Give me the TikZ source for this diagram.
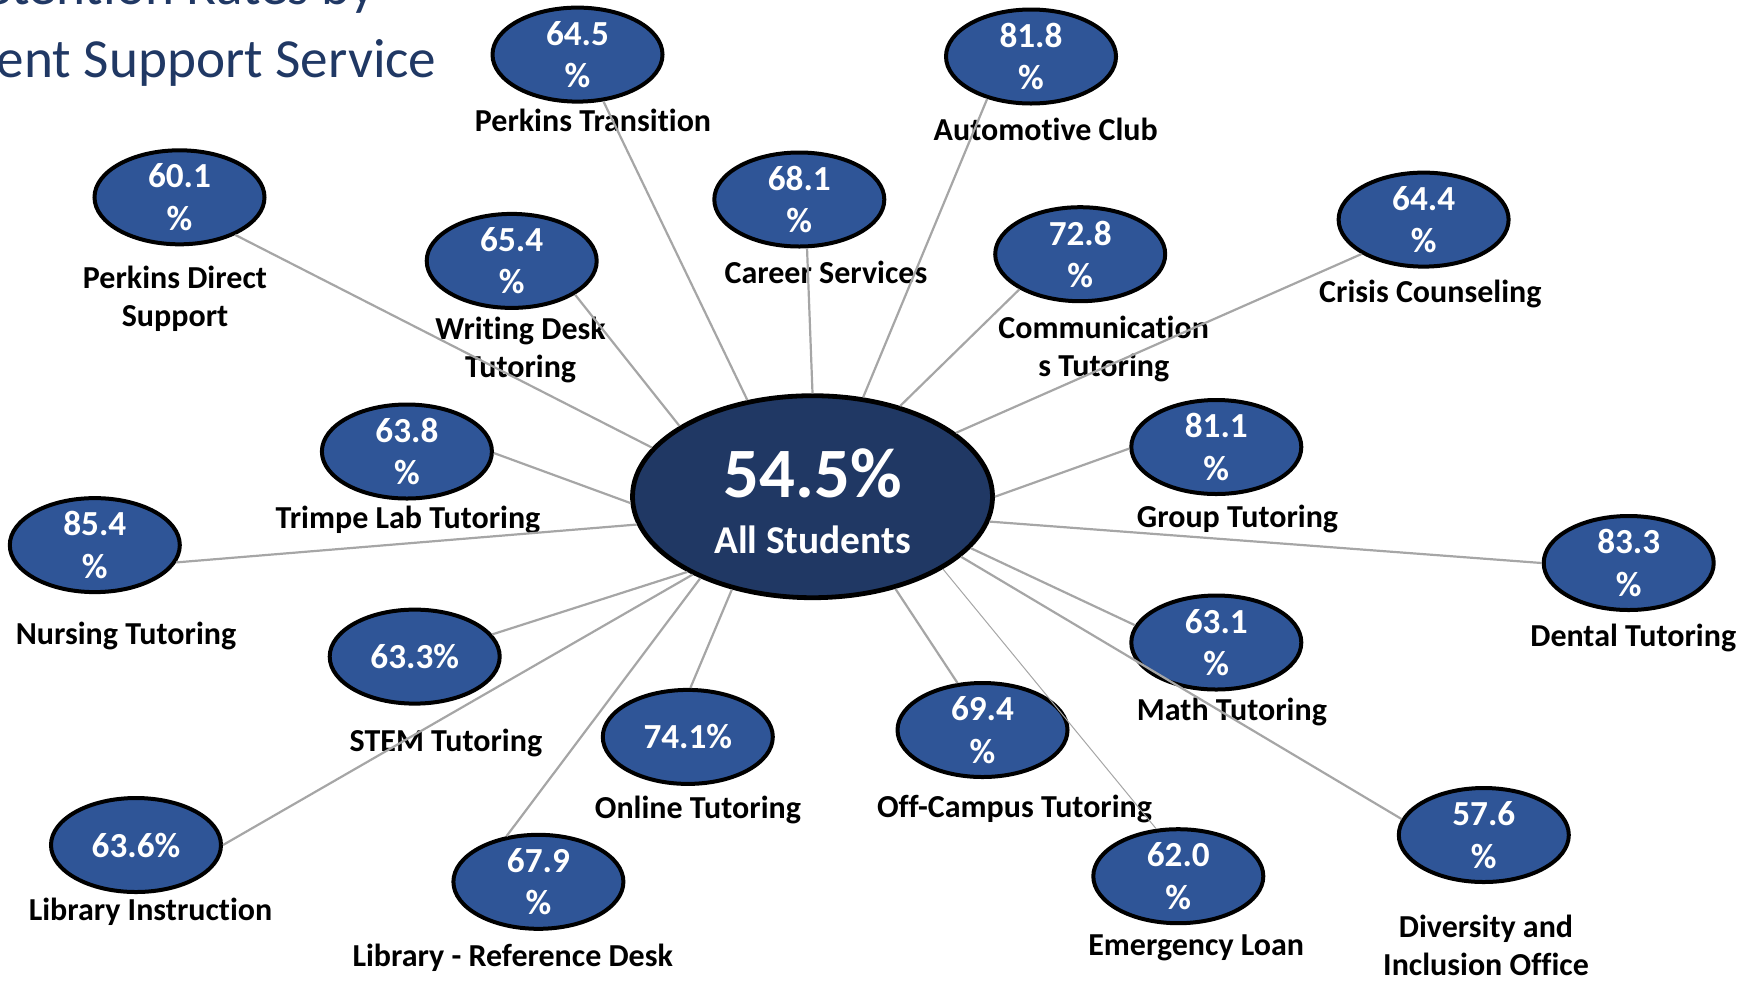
\documentclass[tikz,border=0pt]{standalone}
\usepackage{fontspec}
\setmainfont{Carlito}[Ligatures=NoCommon]
\usepackage{xcolor}
\usepackage{tikz}
\usetikzlibrary{shapes.geometric}

\definecolor{hubblue}{HTML}{203864}
\definecolor{satblue}{HTML}{2F5597}
\definecolor{spoke}{HTML}{A6A6A6}

\tikzset{
  sat/.style={ellipse,draw=black,line width=2pt,fill=satblue,
    minimum width=85pt,minimum height=47pt,inner sep=0pt},
  val/.style={text=white,font=\bfseries\fontsize{17.6}{21.2}\selectfont,
    align=center,inner sep=0pt},
  lbl/.style={anchor=base,font=\bfseries\fontsize{16}{19}\selectfont,inner sep=0pt},
  lbltwo/.style={align=center,font=\bfseries\fontsize{16}{19}\selectfont,inner sep=0pt},
  spokeline/.style={draw=spoke,line width=1.1pt},
}

\begin{document}
\begin{tikzpicture}[x=0.5pt,y=-0.5pt]
  \useasboundingbox (0,0) rectangle (1748,981);
  \clip (0,0) rectangle (1748,981);

  % heading, runs off the top left corner
  \node[anchor=base east,text=hubblue,font=\fontsize{27.6}{33}\selectfont,inner sep=0pt]
    (ttl1) at (376,4) {Retention Rates by};
  \node[anchor=base east,text=hubblue,font=\fontsize{27.6}{33}\selectfont,inner sep=0pt]
    (ttl2) at (437,77) {Student Support Service};

  % centre
  \node[ellipse,draw=black,line width=2.4pt,fill=hubblue,minimum width=180pt,
    minimum height=101pt] (hub) at (812.5,496.7) {};
  \node[anchor=base,text=white,font=\bfseries\fontsize{35.4}{40}\selectfont,inner sep=0pt]
    (hub-v) at (812.5,497.3) {54.5\%};
  \node[anchor=base,text=white,font=\bfseries\fontsize{19.7}{24}\selectfont,inner sep=0pt]
    (hub-l) at (812.5,553.3) {All Students};

  % services
  \foreach \n/\x/\y/\v in {
      pt/577.5/54.6/{64.5\\\%}, ac/1031/56.5/{81.8\\\%}, pd/179.5/197.3/{60.1\\\%},
      cs/799.3/199.5/{68.1\\\%}, wd/511.7/260.9/{65.4\\\%}, ct/1080.2/254.2/{72.8\\\%},
      cc/1423.6/219.6/{64.4\\\%}, tl/406.9/451.5/{63.8\\\%}, gt/1216.3/447/{81.1\\\%},
      nt/94.8/545.1/{85.4\\\%}, dt/1628.7/563/{83.3\\\%}, st/414.7/656.6/{63.3\%},
      mt/1216.3/642.5/{63.1\\\%}, ot/687.8/736.9/{74.1\%}, oc/982.5/730/{69.4\\\%},
      li/136/845/{63.6\%}, lr/538.4/881.8/{67.9\\\%}, el/1178.3/876.2/{62.0\\\%},
      di/1483.8/835/{57.6\\\%}} {
    \node[sat] (\n) at (\x,\y) {};
    \node[val] (\n-v) at (\n) {\v};
  }

  \foreach \n/\x/\y/\t in {
      pt/593/131.5/Perkins Transition, ac/1045.7/140.4/Automotive Club,
      cs/826/283.1/Career Services, cc/1430.3/302.1/Crisis Counseling,
      tl/408/528.4/Trimpe Lab Tutoring, gt/1237.5/527.3/Group Tutoring,
      nt/126/644.3/Nursing Tutoring, dt/1633.2/646.6/Dental Tutoring,
      st/445.9/751.3/STEM Tutoring, mt/1231.9/720.5/Math Tutoring,
      ot/697.9/818.2/Online Tutoring, oc/1014.5/817/Off-Campus Tutoring,
      li/150.5/920.8/Library Instruction, lr/512.8/966.5/Library - Reference Desk,
      el/1196.2/955.3/Emergency Loan}
    \node[lbl] (\n-l) at (\x,\y) {\t};
  \node[lbltwo] (pd-l) at (175,298.5) {Perkins Direct\\Support};
  \node[lbltwo] (wd-l) at (520.6,349.8) {Writing Desk\\Tutoring};
  \node[lbltwo] (ct-l) at (1103.7,348.7) {Communication\\s Tutoring};
  \node[lbltwo] (di-l) at (1486,945.1) {Diversity and\\Inclusion Office};

  % spokes: hub angle / service angle
  \foreach \n/\a/\b in {pt/124/299, ac/63/224, pd/163/326, cs/90/279, wd/152/332,
      ct/46/210, cc/24/209, tl/182/359, gt/0/181, nt/189.5/348, dt/352/180,
      st/211/16, mt/342/168, ot/229/87, oc/312/118, li/213/0, lr/216/125, di/338/169}
    \draw[spokeline] (hub.\a) -- (\n.\b);
  \draw[spokeline,line width=0.5pt] (hub.331) -- (el.115);
\end{tikzpicture}
\end{document}
